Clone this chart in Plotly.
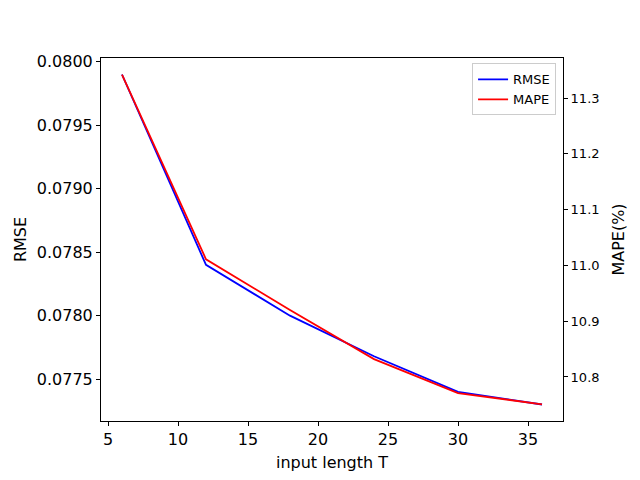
import plotly.graph_objects as go

# input length T and the two metrics
input_len = [6, 12, 18, 24, 30, 36]
rmse = [0.0799, 0.0784, 0.0780, 0.07768, 0.0774, 0.0773]
mape = [11.342, 11.011, 10.92, 10.832, 10.771, 10.751]

fig = go.Figure()
fig.add_trace(go.Scatter(x=input_len, y=rmse, mode="lines", name="RMSE",
                         line=dict(color="blue", width=1.8)))
fig.add_trace(go.Scatter(x=input_len, y=mape, mode="lines", name="MAPE", yaxis="y2",
                         line=dict(color="red", width=1.8)))

axis_style = dict(showline=True, linecolor="black", linewidth=1, ticks="outside",
                  ticklen=4, tickcolor="black", showgrid=False, zeroline=False)

# page body adds ~8px offset, so margins are shifted to compensate
fig.update_layout(
    width=640, height=480,
    margin=dict(l=93, r=85, t=50, b=67),
    paper_bgcolor="white", plot_bgcolor="white",
    font=dict(family="DejaVu Sans", color="black"),
    xaxis=dict(range=[4.5, 37.5], tickvals=[5, 10, 15, 20, 25, 30, 35],
               title=dict(text="input length T", font=dict(size=16), standoff=8),
               tickfont=dict(size=16), mirror=True, **axis_style),
    yaxis=dict(range=[0.07717, 0.08003],
               tickvals=[0.0775, 0.0780, 0.0785, 0.0790, 0.0795, 0.0800],
               tickformat=".4f", tickfont=dict(size=16),
               title=dict(text="RMSE", font=dict(size=16), standoff=6), **axis_style),
    yaxis2=dict(range=[10.721, 11.372], overlaying="y", side="right",
                tickvals=[10.8, 10.9, 11.0, 11.1, 11.2, 11.3], tickformat=".1f",
                tickfont=dict(size=13),
                title=dict(text="MAPE(%)", font=dict(size=16), standoff=14), **axis_style),
    legend=dict(x=0.985, y=0.985, xanchor="right", yanchor="top",
                bordercolor="#cccccc", borderwidth=1, bgcolor="rgba(255,255,255,0.8)",
                font=dict(size=13)),
)

fig.write_html("out.html")
